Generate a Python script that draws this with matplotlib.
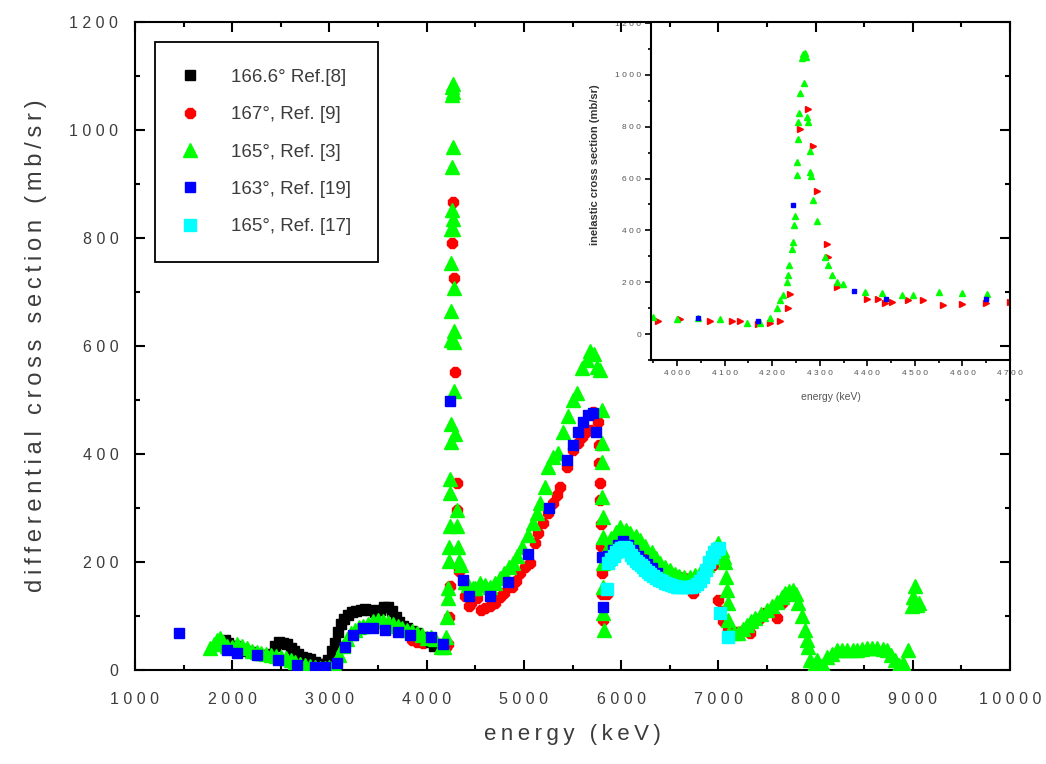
import matplotlib
matplotlib.use("Agg")
import matplotlib.pyplot as plt
from matplotlib.ticker import MultipleLocator, FuncFormatter

plt.rcParams['font.family'] = ['Liberation Sans', 'DejaVu Sans']

# ---- data (energy in keV, cross section in mb/sr) ----

# 166.6 deg, Ref.[8]
e_black = [1900, 1930, 1960, 1990, 2030, 2070, 2110, 2150, 2200, 2250, 2300, 2350,
           2400, 2440, 2480, 2520, 2560, 2600, 2640, 2680, 2720, 2760, 2800, 2850,
           2900, 2950, 2990, 3030, 3060, 3090, 3120, 3150, 3190, 3230, 3270, 3320,
           3370, 3420, 3470, 3520, 3560, 3600, 3640, 3680, 3720, 3760, 3800, 3850,
           3900, 3950, 4000, 4040, 4080]
v_black = [52, 56, 50, 45, 44, 40, 38, 36, 33, 30, 28, 27,
           30, 45, 52, 50, 48, 40, 35, 30, 25, 22, 20, 15,
           12, 12, 18, 35, 50, 70, 85, 95, 102, 107, 110, 112,
           113, 112, 108, 111, 116, 117, 110, 98, 88, 82, 78, 72,
           68, 62, 58, 52, 45]

# 167 deg, Ref. [9]
e_red = [3850, 3900, 3960, 4006, 4069, 4116, 4132, 4170, 4195, 4216, 4233, 4237,
         4258, 4275, 4286, 4294, 4315, 4317, 4336, 4399, 4422, 4437, 4452, 4485,
         4517, 4560, 4600, 4650, 4700, 4755, 4800, 4879, 4920, 4961, 5010, 5064,
         5115, 5146, 5198, 5249, 5300, 5340, 5372, 5444, 5506, 5560, 5599, 5640,
         5681, 5712, 5740, 5763, 5770, 5775, 5780, 5785, 5790, 5795, 5800, 5805,
         5810, 5850, 5900, 5950, 6000, 6050, 6100, 6150, 6200, 6250, 6300, 6350,
         6400, 6450, 6500, 6550, 6600, 6650, 6700, 6741, 6800, 6850, 6900, 6946,
         6980, 7000, 7020, 7050, 7100, 7200, 7250, 7330, 7360, 7420, 7480, 7530,
         7605, 7650, 7700, 7750]
v_red = [55, 52, 50, 57, 49, 49, 49, 40, 42, 49, 99, 156,
         791, 867, 726, 551, 346, 297, 183, 137, 137, 118, 125, 133,
         133, 112, 115, 118, 125, 135, 142, 154, 165, 180, 190, 198,
         235, 254, 272, 291, 310, 325, 339, 376, 407, 420, 431, 440,
         444, 478, 470, 459, 416, 383, 346, 315, 270, 230, 180, 140,
         93, 140, 200, 225, 235, 235, 228, 220, 212, 205, 198, 192,
         188, 185, 180, 175, 172, 170, 168, 142, 165, 175, 190, 194,
         210, 130, 110, 90, 75, 70, 72, 68, 87, 95, 105, 111,
         96, 125, 135, 140]

# 165 deg, Ref. [3]
e_green = [1770, 1810, 1840, 1875, 1910, 1950, 2000, 2050, 2100, 2150, 2200, 2250,
           2300, 2350, 2400, 2450, 2500, 2550, 2600, 2650, 2700, 2750, 2800, 2850,
           2900, 2950, 3000, 3050, 3100, 3140, 3180, 3220, 3260, 3300, 3350, 3400,
           3450, 3500, 3550, 3600, 3650, 3700, 3750, 3800, 3850, 3900, 3950, 4000,
           4044, 4090, 4147, 4174, 4195, 4210, 4216, 4223, 4230, 4233, 4236, 4242,
           4244, 4246, 4248, 4252, 4253, 4254, 4255, 4256, 4258, 4262, 4265, 4267,
           4268, 4270, 4273, 4275, 4279, 4280, 4282, 4286, 4294, 4311, 4317, 4326,
           4336, 4349, 4395, 4430, 4473, 4496, 4550, 4600, 4652, 4704, 4750, 4800,
           4850, 4889, 4930, 4981, 5040, 5095, 5130, 5167, 5218, 5249, 5300, 5352,
           5400, 5450, 5500, 5547, 5600, 5650, 5681, 5720, 5753, 5780, 5800, 5803,
           5805, 5807, 5809, 5811, 5813, 5815, 5818, 5822, 5850, 5900, 5950, 5990,
           6050, 6093, 6150, 6195, 6250, 6319, 6360, 6401, 6450, 6504, 6550, 6600,
           6650, 6710, 6760, 6813, 6850, 6885, 6930, 6970, 6998, 7039, 7060, 7070,
           7080, 7090, 7095, 7101, 7110, 7160, 7204, 7250, 7296, 7340, 7379, 7440,
           7502, 7550, 7605, 7650, 7687, 7730, 7770, 7800, 7821, 7860, 7893, 7910,
           7924, 7944, 7980, 8016, 8030, 8060, 8080, 8119, 8170, 8222, 8275, 8325,
           8380, 8428, 8480, 8531, 8580, 8634, 8690, 8737, 8780, 8819, 8850, 8860,
           8901, 8920, 8953, 8990, 9004, 9020, 9040, 9060]
v_green = [40, 48, 55, 60, 52, 45, 42, 48, 44, 40, 36, 33,
           32, 30, 28, 26, 24, 22, 18, 15, 12, 10, 7, 5,
           3, 3, 5, 12, 28, 45, 58, 68, 74, 79, 82, 86,
           90, 92, 90, 88, 86, 82, 78, 75, 72, 68, 64, 60,
           61, 57, 42, 42, 61, 99, 133, 152, 202, 228, 266, 327,
           354, 422, 456, 612, 665, 753, 817, 852, 931, 1065, 1080, 969,
           1085, 1070, 836, 817, 707, 627, 608, 517, 437, 297, 266, 228,
           202, 194, 163, 158, 152, 152, 161, 158, 154, 161, 170, 180,
           190, 198, 212, 228, 250, 272, 290, 309, 339, 376, 394, 402,
           440, 470, 500, 513, 560, 575, 590, 585, 561, 555, 481, 420,
           385, 320, 283, 246, 198, 154, 105, 75, 225, 245, 255, 265,
           260, 254, 248, 241, 230, 219, 208, 198, 190, 185, 178, 175,
           172, 172, 176, 180, 188, 194, 209, 225, 235, 222, 210, 200,
           172, 148, 124, 93, 68, 68, 68, 76, 83, 90, 96, 104,
           111, 118, 126, 135, 142, 146, 148, 140, 124, 100, 74, 55,
           43, 18, 10, 18, 5, 8, 10, 24, 30, 37, 37, 37,
           37, 37, 38, 40, 40, 40, 38, 37, 28, 18, 5, 10,
           13, 3, 37, 118, 135, 155, 120, 125]

# 163 deg, Ref. [19]
e_blue = [1450, 1946, 2050, 2255, 2470, 2667, 2850, 2955, 3080, 3160, 3240, 3345,
          3450, 3570, 3700, 3830, 4044, 4170, 4244, 4372, 4440, 4649, 4837, 5043,
          5259, 5444, 5506, 5558, 5609, 5660, 5712, 5740, 5800, 5810, 5870, 5920,
          5970, 6020, 6070, 6120, 6170, 6220, 6270, 6320, 6370]
v_blue = [68, 37, 31, 28, 18, 9, 5, 5, 13, 42, 65, 78,
          78, 74, 70, 65, 61, 49, 498, 167, 137, 137, 163, 215,
          300, 389, 416, 441, 459, 472, 476, 441, 209, 117, 212, 222,
          232, 238, 232, 222, 212, 204, 196, 188, 180]

# 165 deg, Ref. [17]
e_cyan = [5850, 5870, 5900, 5925, 5950, 5975, 6000, 6025, 6050, 6075, 6100, 6125,
          6150, 6175, 6200, 6225, 6250, 6275, 6300, 6330, 6360, 6390, 6420, 6450,
          6480, 6510, 6540, 6570, 6600, 6630, 6660, 6690, 6720, 6750, 6780, 6810,
          6840, 6870, 6900, 6930, 6960, 6990, 7010, 7020, 7100]
v_cyan = [150, 198, 205, 212, 218, 222, 226, 228, 226, 220, 213, 207,
          202, 198, 194, 190, 186, 182, 178, 174, 170, 167, 164, 161,
          159, 157, 155, 154, 153, 153, 153, 153, 154, 156, 159, 164,
          172, 185, 200, 210, 218, 224, 226, 105, 61]

labels = ["166.6° Ref.[8]", "167°, Ref. [9]", "165°, Ref. [3]",
          "163°, Ref. [19]", "165°, Ref. [17]"]

txt_col = '#3c3c3c'
THIN = '\u2009'


def spaced(v, pos):
    return ' '.join(str(int(round(v))))


def loose(s):
    # the original output uses wide letter spacing
    return THIN.join(s)


W, H = 1046, 764
fig = plt.figure(figsize=(W / 100, H / 100), dpi=100)
fig.patch.set_facecolor('white')

ax = fig.add_axes([135 / W, 1 - 670 / H, 875 / W, 648 / H])
ax.patch.set_alpha(0)
ax.set_zorder(2)

ax.plot(e_red, v_red, ls='none', marker='8', ms=7.5, color='#ff0000', mec='#ff0000', label=labels[1], zorder=2)
ax.plot(e_black, v_black, ls='none', marker='s', ms=7.5, color='black', label=labels[0], zorder=3)
ax.plot(e_green, v_green, ls='none', marker='^', ms=9.5, color='#00ff00', mec='#00ff00', label=labels[2], zorder=4)
ax.plot(e_blue, v_blue, ls='none', marker='s', ms=7.5, color='#0000ff', label=labels[3], zorder=5)
ax.plot(e_cyan, v_cyan, ls='none', marker='s', ms=8, color='#00ffff', label=labels[4], zorder=6)

ax.set_xlim(1000, 10000)
ax.set_ylim(0, 1200)
ax.xaxis.set_major_locator(MultipleLocator(1000))
ax.xaxis.set_minor_locator(MultipleLocator(500))
ax.yaxis.set_major_locator(MultipleLocator(200))
ax.yaxis.set_minor_locator(MultipleLocator(100))
ax.xaxis.set_major_formatter(FuncFormatter(spaced))
ax.yaxis.set_major_formatter(FuncFormatter(spaced))
ax.tick_params(which='both', direction='in', top=True, right=True, width=1.5,
               labelsize=11.5, labelcolor=txt_col)
ax.tick_params(axis='x', pad=16)
ax.tick_params(axis='y', pad=12)
ax.tick_params(which='major', length=7)
ax.tick_params(which='minor', length=3.5)
for s in ax.spines.values():
    s.set_linewidth(1.5)

ax.set_xlabel(loose('energy (keV)'), fontsize=16, color=txt_col, labelpad=12)
ax.set_ylabel(loose('differential cross section (mb/sr)'), fontsize=17, color=txt_col, labelpad=16)

h, l = ax.get_legend_handles_labels()
order = [1, 0, 2, 3, 4]
leg = ax.legend([h[i] for i in order], [l[i] for i in order], loc='upper left',
                bbox_to_anchor=(0.023, 0.969), borderaxespad=0, fancybox=False,
                edgecolor='black', framealpha=1, fontsize=13.5, labelspacing=1.08,
                borderpad=1.42, handlelength=0.9, handletextpad=1.75, numpoints=1)
leg.get_frame().set_linewidth(1.3)
for t in leg.get_texts():
    t.set_color(txt_col)

# ---- inset: zoom around the 4.26 MeV resonance ----
axin = fig.add_axes([651 / W, 1 - 360 / H, 359 / W, 337 / H])
axin.set_zorder(1)
axin.plot(e_red, v_red, ls='none', marker='>', ms=4, color='#ff0000')
axin.plot(e_green, v_green, ls='none', marker='^', ms=4.5, color='#00ff00')
axin.plot(e_blue, v_blue, ls='none', marker='s', ms=3.5, color='#0000ff')
axin.set_xlim(3945, 4700)
axin.set_ylim(-100, 1200)
axin.spines['top'].set_visible(False)
axin.spines['right'].set_visible(False)
axin.spines['left'].set_linewidth(1.5)
axin.spines['bottom'].set_linewidth(1.5)
axin.xaxis.set_major_locator(MultipleLocator(100))
axin.xaxis.set_minor_locator(MultipleLocator(50))
axin.yaxis.set_major_locator(MultipleLocator(200))
axin.yaxis.set_minor_locator(MultipleLocator(100))
axin.xaxis.set_major_formatter(FuncFormatter(spaced))
axin.yaxis.set_major_formatter(FuncFormatter(spaced))
axin.tick_params(which='both', direction='out', width=1.2, labelsize=6,
                 labelcolor='#555555', pad=3)
axin.tick_params(which='major', length=4)
axin.tick_params(which='minor', length=2)
axin.set_xlabel('energy (keV)', fontsize=7.5, color='#555555', labelpad=11)
axin.set_ylabel('inelastic cross section (mb/sr)', fontsize=8, fontweight='bold',
                color='#333333')
axin.yaxis.set_label_coords(-0.142, 0.58)

fig.savefig('out.png', dpi=100)
